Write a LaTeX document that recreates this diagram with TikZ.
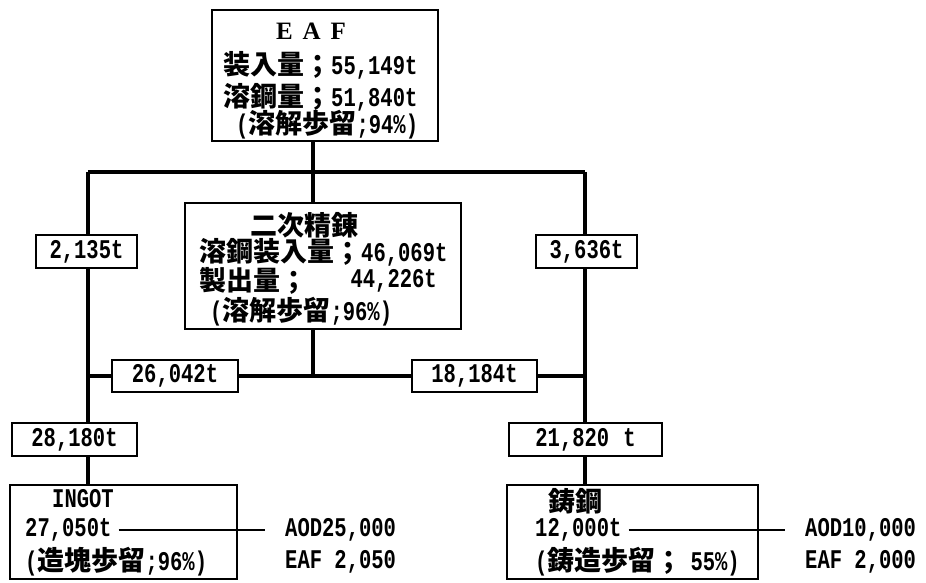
\documentclass[tikz,border=0pt]{standalone}
\usepackage{fontspec}
\setmainfont{Liberation Mono}[FakeStretch=0.76]
\newfontfamily\jp{Noto Sans CJK JP}
\newfontfamily\serifcaps{Liberation Serif}
\newcommand{\J}[1]{{\jp\bfseries #1}}
\begin{document}
\begin{tikzpicture}[x=1pt,y=-1pt,
  box/.style={draw, line width=2.4pt, inner sep=0pt},
  lab/.style={draw, line width=2pt, inner sep=0pt, font=\fontsize{27}{30}\selectfont\bfseries},
  txt/.style={anchor=west, inner sep=0pt, font=\fontsize{27}{30}\selectfont\bfseries},
  conn/.style={line width=3.2pt},
  thinline/.style={line width=1.3pt}]
\useasboundingbox (0,0) rectangle (926,582);
% boxes
\node[box, minimum width=226pt, minimum height=131pt] (eaf) at (325,75.5) {};
\node[box, minimum width=276pt, minimum height=126pt] (mid) at (323,266) {};
\node[box, minimum width=227pt, minimum height=94pt] (ingot) at (123.5,532) {};
\node[box, minimum width=251pt, minimum height=94pt] (cast) at (632.5,532) {};
% labels
\node[lab, minimum width=101pt, minimum height=33pt] (l2135) at (86.5,251.5) {2,135t};
\node[lab, minimum width=126pt, minimum height=32pt] (l26042) at (175,376) {26,042t\hspace{12pt}};
\node[lab, minimum width=125pt, minimum height=33pt] (l28180) at (74.5,439.5) {28,180t\hspace{22pt}};
\node[lab, minimum width=101pt, minimum height=33pt] (l3636) at (586.5,251.5) {3,636t};
\node[lab, minimum width=125pt, minimum height=32pt] (l18184) at (474.5,376) {18,184t\hspace{12pt}};
\node[lab, minimum width=153pt, minimum height=33pt] (l21820) at (585.5,439.5) {21,820\hspace{14pt}t};
% coordinates
\coordinate (tl) at (88,172);
\coordinate (tr) at (585,172);
\coordinate (tj) at (313,172);
\coordinate (bl) at (88,376);
\coordinate (br) at (585,376);
\coordinate (bj) at (313,376);
% connectors
\draw[conn] (tj |- eaf.south) -- (tj);
\draw[conn] (tl) -- (tr);
\draw[conn] (tj) -- (tj |- mid.north);
\draw[conn] (tl) -- (tl |- l2135.north);
\draw[conn] (tl |- l2135.south) -- (tl |- l28180.north);
\draw[conn] (tl |- l28180.south) -- (tl |- ingot.north);
\draw[conn] (tr) -- (tr |- l3636.north);
\draw[conn] (tr |- l3636.south) -- (tr |- l21820.north);
\draw[conn] (tr |- l21820.south) -- (tr |- cast.north);
\draw[conn] (tj |- mid.south) -- (bj);
\draw[conn] (bj) -- (l26042.east);
\draw[conn] (l26042.west) -- (bl);
\draw[conn] (bj) -- (l18184.west);
\draw[conn] (l18184.east) -- (br);
% EAF texts
\node[inner sep=0pt, font=\serifcaps\bfseries\fontsize{25}{28}\selectfont] (teaf) at (311,31) {E\hspace{10pt}A\hspace{10pt}F};
\node[txt] (teaf1) at (223,65) {\J{装入量；}55,149t};
\node[txt] (teaf2) at (223,97) {\J{溶鋼量；}51,840t};
\node[txt] (teaf3) at (236,125) {(\J{溶解歩留};94\%)};
% middle texts
\node[txt] (tmid0) at (250,225) {\J{二次精錬}};
\node[txt] (tmid1) at (199,252) {\J{溶鋼装入量；}46,069t};
\node[txt] (tmid2) at (199,281) {\J{製出量；}};
\node[txt, anchor=east] (tmid2b) at (437,281) {44,226t};
\node[txt] (tmid3) at (210,312) {(\J{溶解歩留};96\%)};
% ingot texts
\node[txt] (ting0) at (52,499) {INGOT};
\node[txt] (ting1) at (25,530) {27,050t};
\node[txt] (ting2) at (25,562) {(\J{\fontsize{27}{30}\selectfont 造塊歩留};96\%)};
\node[txt] (aod1) at (285,530) {AOD25,000};
\node[txt] (eaf1) at (285,562) {EAF 2,050};
\draw[thinline, shorten <=7pt, shorten >=20pt] (ting1.east) -- (aod1.west);
% casting texts
\node[txt] (tcast0) at (548,501) {\J{鋳鋼}};
\node[txt] (tcast1) at (535,530) {12,000t};
\node[txt] (tcast2) at (535,562) {(\J{\fontsize{27}{30}\selectfont 鋳造歩留；}\hspace{8pt}55\%)};
\node[txt] (aod2) at (805,530) {AOD10,000};
\node[txt] (eaf2) at (805,562) {EAF 2,000};
\draw[thinline, shorten <=7pt, shorten >=20pt] (tcast1.east) -- (aod2.west);
\end{tikzpicture}
\end{document}
